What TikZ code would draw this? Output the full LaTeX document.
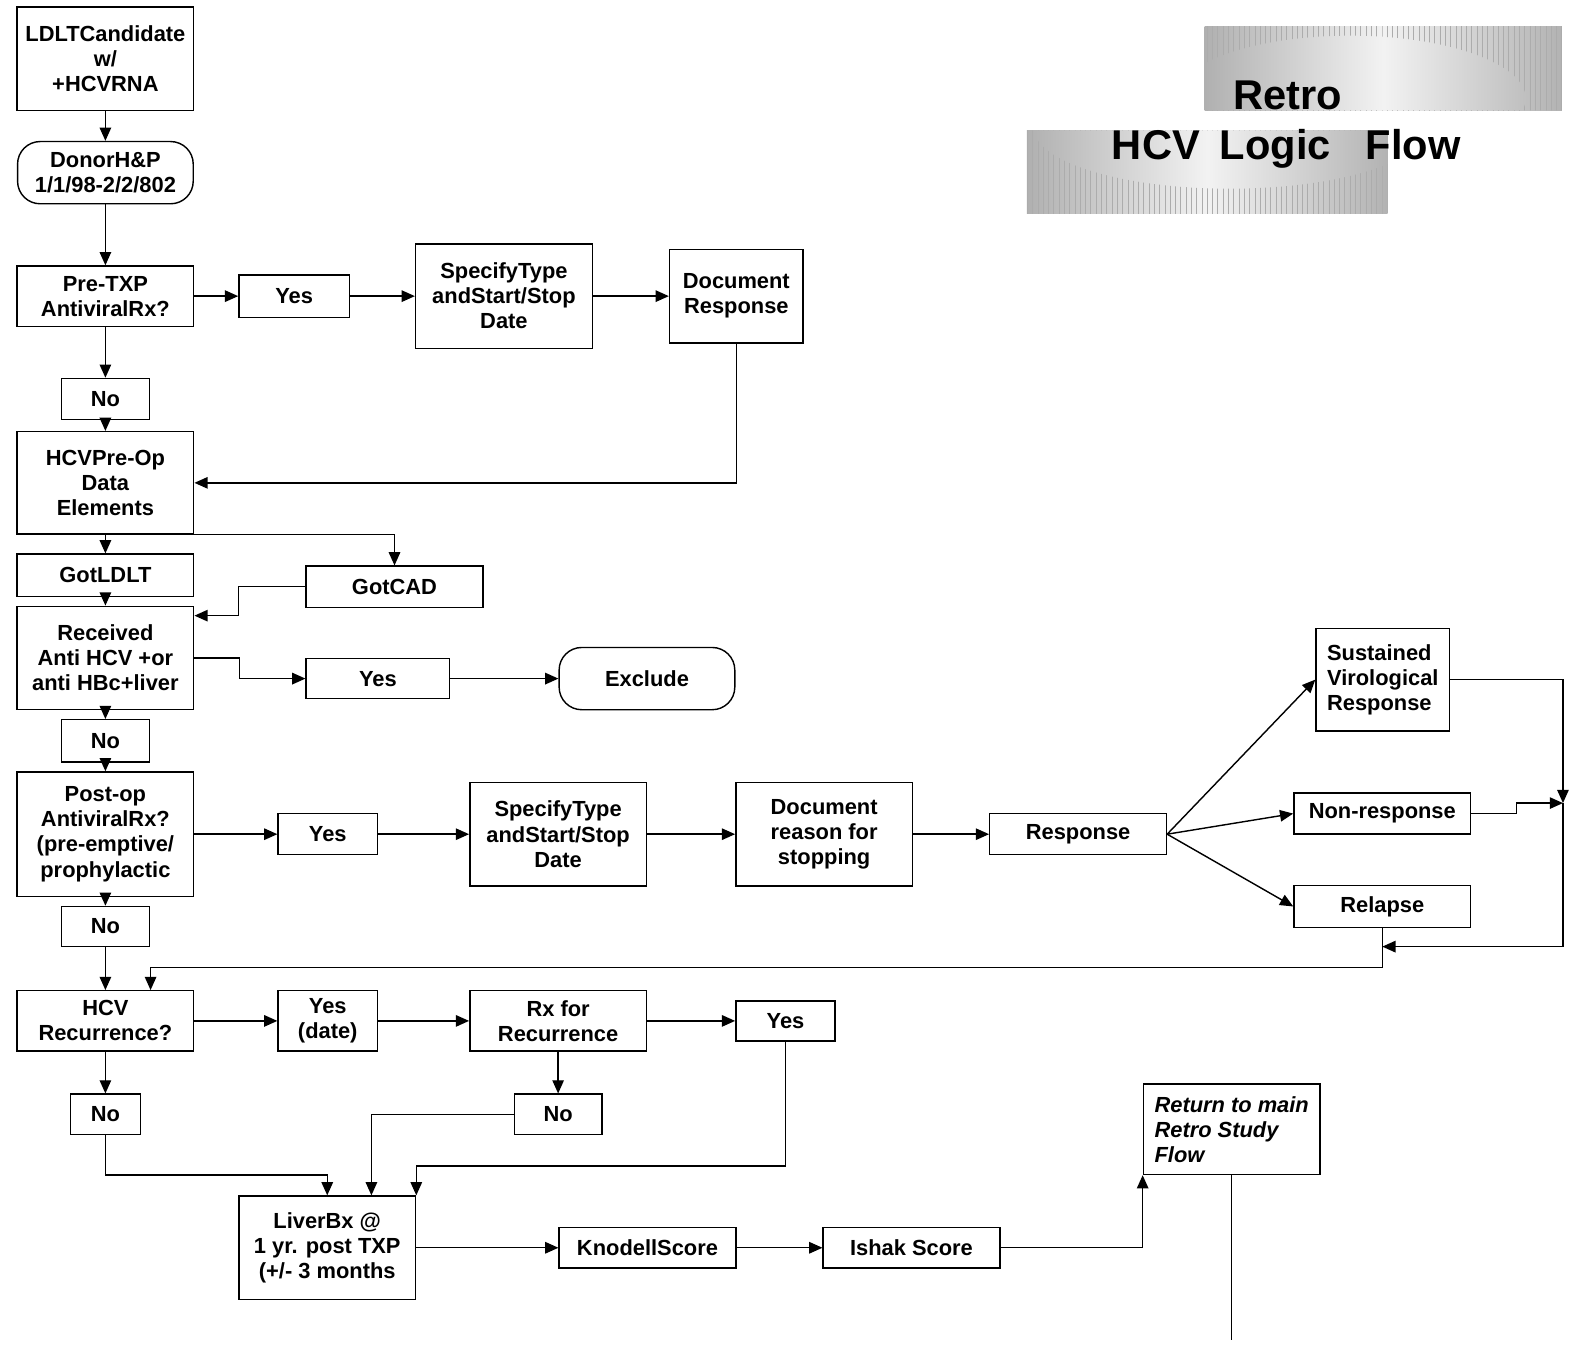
\documentclass[tikz,border=0pt]{standalone}
\usepackage{fontspec}
\setmainfont{Liberation Sans}
\usetikzlibrary{arrows.meta,calc,patterns}

\begin{document}
\begin{tikzpicture}[
  x=0.02cm, y=-0.02cm,
  line width=0.8pt,
  sz/.style 2 args={minimum width=#1*0.02cm, minimum height=#2*0.02cm},
  box/.style={draw, inner sep=0pt, align=center,
    font=\bfseries\fontsize{12.4}{14.2}\selectfont},
  term/.style={box, rounded corners=0.45cm},
  arr/.style={-{Triangle[length=7.5pt,width=6.5pt]}},
  title/.style={inner sep=0pt, font=\bfseries\fontsize{23.6}{28}\selectfont},
  stripes/.style={pattern=vertical lines, pattern color=gray!65, even odd rule}
]
\useasboundingbox (0,0) rectangle (1568,1342);

% ---- title banners ----
\begin{scope}
  \clip (1200,26) rectangle (1556,110);
  \shade[left color=gray!62, right color=gray!60, middle color=gray!10]
    (1200,26) rectangle (1556,110);
  \fill[stripes] (1200,26) rectangle (1556,110)
    (1345,98) ellipse [x radius=3.5cm, y radius=1.25cm];
\end{scope}
\begin{scope}
  \clip (1023,130) rectangle (1382,213);
  \shade[left color=gray!62, right color=gray!60, middle color=gray!10]
    (1023,130) rectangle (1382,213);
  \fill[stripes] (1023,130) rectangle (1382,213)
    (1225,128) ellipse [x radius=3.9cm, y radius=1.2cm];
\end{scope}
\node[title, anchor=base west] (retro) at (1228,109) {Retro};
\node[title, anchor=base west] (hcvflow) at (1107,159)
  {HCV\hspace{0.48em}Logic\hspace{0.84em}Flow};

% ---- left column ----
\node[box, sz={176}{103}] (ldlt) at (105,58.5) {LDLTCandidate\\w/\\+HCVRNA};
\node[term, sz={175}{62}] (donor) at (105,172) {DonorH\&P\\1/1/98-2/2/802};
\node[box, sz={176}{60}] (pretxp) at (105,295) {Pre-TXP\\AntiviralRx?};
\node[box, sz={88}{41}] (no1) at (105,397.5) {No};
\node[box, sz={176}{102}] (preop) at (105,481) {HCVPre-Op\\Data\\Elements};
\node[box, sz={176}{42}] (gotldlt) at (105,573) {GotLDLT};
\node[box, sz={176}{103}] (recv) at (105,655.5) {Received\\Anti HCV +or\\anti HBc+liver};
\node[box, sz={88}{42}] (no2) at (105,738) {No};
\node[box, sz={176}{124}] (postop) at (105,831)
  {Post-op\\AntiviralRx?\\(pre-emptive/\\prophylactic};
\node[box, sz={88}{40}] (no3) at (105,923) {No};
\node[box, sz={176}{60}] (hcvrec) at (105,1017) {HCV\\Recurrence?};
\node[box, sz={70}{40}] (no4) at (105,1110) {No};

% ---- pre-transplant therapy row ----
\node[box, sz={110}{42}] (yes1) at (293,295) {Yes};
\node[box, sz={176}{104}] (spec1) at (502,295) {SpecifyType\\andStart/Stop\\Date};
\node[box, sz={133}{93}] (docresp) at (733.5,295) {Document\\Response};

% ---- donor liver branch ----
\node[box, sz={176}{41}] (gotcad) at (393,584.5) {GotCAD};
\node[box, sz={143}{40}] (yes2) at (376.5,676) {Yes};
\node[term, sz={175}{62}] (exclude) at (644.5,676) {Exclude};

% ---- post-op therapy row ----
\node[box, sz={99}{41}] (yes3) at (326.5,831) {Yes};
\node[box, sz={176}{103}] (spec2) at (556,831) {SpecifyType\\andStart/Stop\\Date};
\node[box, sz={176}{103}] (docreason) at (821,831) {Document\\reason for\\stopping};
\node[box, sz={176}{41}] (resp) at (1074,831) {Response};
\node[box, sz={133}{102}, align=left] (svr) at (1377.5,677)
  {Sustained\\Virological\\Response};
\node[box, sz={176}{41}] (nonresp) at (1377,810.5) {Non-response};
\node[box, sz={176}{42}] (relapse) at (1377,903) {Relapse};

% ---- recurrence row ----
\node[box, sz={99}{60}] (yesdate) at (326.5,1017) {Yes\\(date)};
\node[box, sz={176}{60}] (rxrec) at (556,1017) {Rx for\\Recurrence};
\node[box, sz={99}{40}] (yes4) at (782.5,1017) {Yes};
\node[box, sz={87}{40}] (no5) at (556,1110) {No};

% ---- biopsy row ----
\node[box, sz={176}{103}] (liverbx) at (326,1243) {LiverBx @\\1 yr. post TXP\\(+/- 3 months};
\node[box, sz={176}{40}] (knodell) at (645,1243) {KnodellScore};
\node[box, sz={176}{40}] (ishak) at (908,1243) {Ishak Score};
\node[box, sz={176}{90}, align=left,
  font=\bfseries\itshape\fontsize{12.4}{14.2}\selectfont] (ret) at (1227,1125)
  {Return to main\\Retro Study\\Flow};

% ---- helper points ----
\coordinate (cadin) at ($(recv.north east)+(0,10)$);
\coordinate (merge) at (1557,800);
\coordinate (join) at (1377,943);
\coordinate (exit) at (1227,1335);

% ---- connectors ----
\draw[arr] (ldlt.south) -- (donor.north);
\draw[arr] (donor.south) -- (pretxp.north);
\draw[arr] (pretxp.east) -- (yes1.west);
\draw[arr] (yes1.east) -- (spec1.west);
\draw[arr] (spec1.east) -- (docresp.west);
\draw[arr] (docresp.south) |- (preop.east);
\draw[arr] (pretxp.south) -- (no1.north);
\draw[arr] (no1.south) -- (preop.north);
\draw[arr] (preop.south) -- (gotldlt.north);
\draw[arr] (preop.south east) -| (gotcad.north);
\draw[arr] (gotldlt.south) -- (recv.north);
\draw[arr] (gotcad.west) -- ++(-67,0) |- (cadin);
\draw[arr] (recv.east) -- ++(45,0) |- (yes2.west);
\draw[arr] (yes2.east) -- (exclude.west);
\draw[arr] (recv.south) -- (no2.north);
\draw[arr] (no2.south) -- (postop.north);
\draw[arr] (postop.east) -- (yes3.west);
\draw[arr] (yes3.east) -- (spec2.west);
\draw[arr] (spec2.east) -- (docreason.west);
\draw[arr] (docreason.east) -- (resp.west);
\draw[arr] (resp.east) -- (svr.west);
\draw[arr] (resp.east) -- (nonresp.west);
\draw[arr] (resp.east) -- (relapse.west);
\draw[arr] (svr.east) -| (merge);
\draw[arr] (nonresp.east) -- ++(45,0) |- (merge);
\draw[arr] (merge) |- (join);
\draw[arr] (relapse.south) -- ++(0,39) -| ($(hcvrec.north)+(45,0)$);
\draw[arr] (postop.south) -- (no3.north);
\draw[arr] (no3.south) -- (hcvrec.north);
\draw[arr] (hcvrec.east) -- (yesdate.west);
\draw[arr] (yesdate.east) -- (rxrec.west);
\draw[arr] (rxrec.east) -- (yes4.west);
\draw[arr] (hcvrec.south) -- (no4.north);
\draw[arr] (rxrec.south) -- (no5.north);
\draw[arr] (no4.south) -- ++(0,40) -| (liverbx.north);
\draw[arr] (no5.west) -| ($(liverbx.north)+(44,0)$);
\draw[arr] (yes4.south) -- ++(0,124) -| (liverbx.north east);
\draw[arr] (liverbx.east) -- (knodell.west);
\draw[arr] (knodell.east) -- (ishak.west);
\draw[arr] (ishak.east) -| (ret.south west);
\draw (ret.south) -- (exit);
\end{tikzpicture}
\end{document}
